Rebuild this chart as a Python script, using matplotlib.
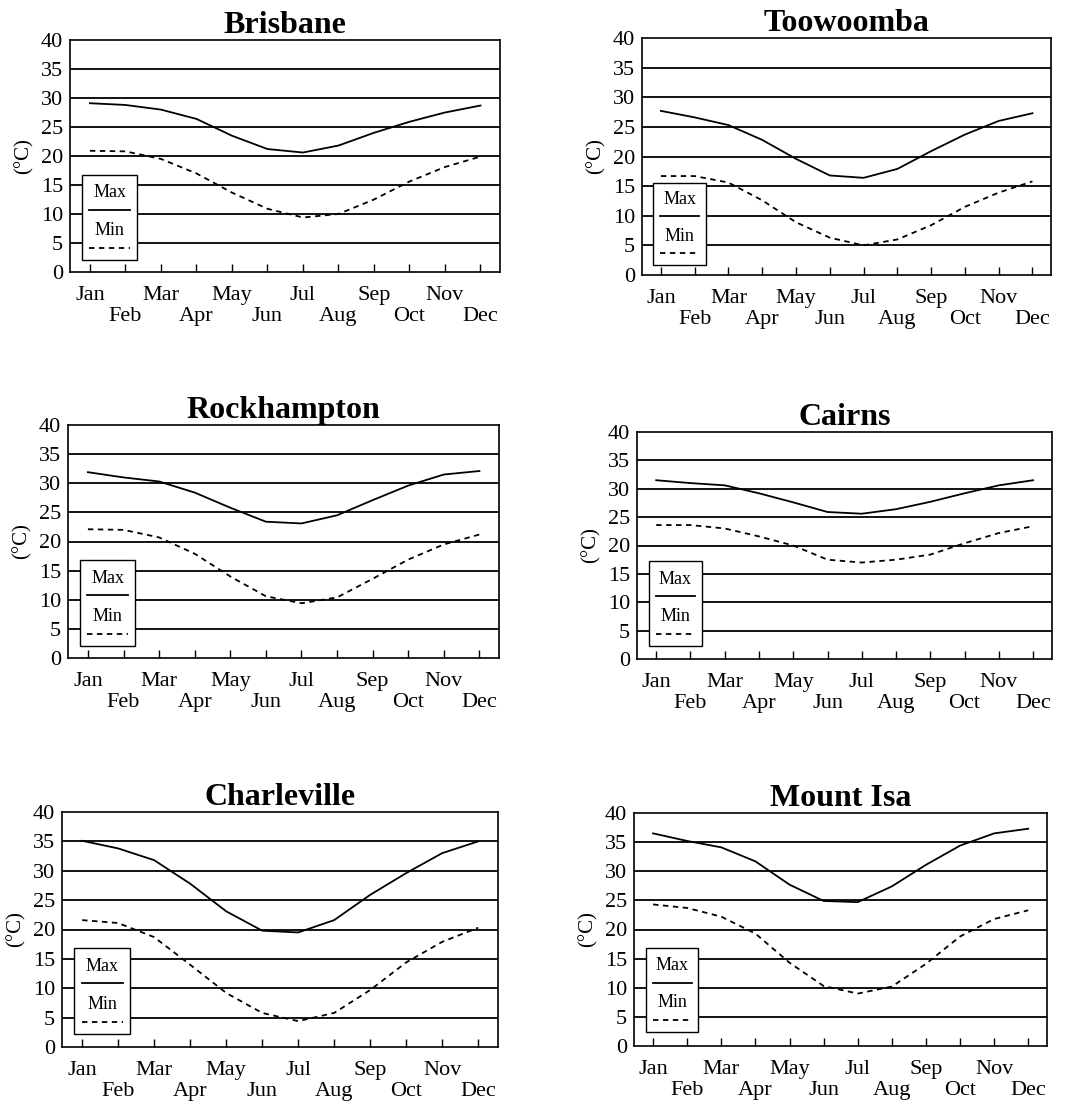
import numpy as np
import matplotlib.pyplot as plt
from matplotlib.patches import Rectangle

plt.rcParams['font.family'] = ['Liberation Serif', 'DejaVu Serif']

months = ['Jan', 'Feb', 'Mar', 'Apr', 'May', 'Jun',
          'Jul', 'Aug', 'Sep', 'Oct', 'Nov', 'Dec']

cities = ['Brisbane', 'Toowoomba', 'Rockhampton', 'Cairns', 'Charleville', 'Mount Isa']

brisbane_max = [29.1, 28.8, 28.0, 26.4, 23.5, 21.2, 20.6, 21.8, 24.0, 25.9, 27.5, 28.7]
brisbane_min = [20.9, 20.8, 19.5, 17.0, 13.7, 10.9, 9.4, 10.0, 12.5, 15.6, 18.1, 19.9]

toowoomba_max = [27.7, 26.6, 25.3, 22.8, 19.6, 16.8, 16.4, 17.9, 20.9, 23.7, 26.0, 27.3]
toowoomba_min = [16.7, 16.7, 15.6, 12.6, 8.9, 6.3, 5.0, 6.0, 8.4, 11.5, 13.9, 15.8]

rockhampton_max = [31.9, 31.0, 30.3, 28.4, 25.8, 23.4, 23.1, 24.5, 27.1, 29.6, 31.5, 32.1]
rockhampton_min = [22.1, 22.0, 20.7, 17.9, 14.0, 10.6, 9.4, 10.4, 13.6, 16.9, 19.5, 21.2]

cairns_max = [31.5, 31.0, 30.6, 29.2, 27.6, 25.9, 25.6, 26.4, 27.7, 29.2, 30.6, 31.5]
cairns_min = [23.6, 23.6, 23.0, 21.6, 20.0, 17.5, 17.0, 17.5, 18.4, 20.4, 22.2, 23.4]

charleville_max = [35.1, 33.8, 31.8, 27.8, 23.1, 19.8, 19.5, 21.6, 25.9, 29.6, 33.0, 35.0]
charleville_min = [21.6, 21.1, 18.7, 14.0, 9.2, 5.8, 4.4, 5.8, 9.7, 14.4, 17.9, 20.3]

mountisa_max = [36.5, 35.2, 34.1, 31.7, 27.7, 24.9, 24.7, 27.4, 31.1, 34.4, 36.5, 37.3]
mountisa_min = [24.3, 23.7, 22.2, 19.3, 14.3, 10.3, 9.0, 10.2, 14.1, 18.8, 21.8, 23.3]

series = [(brisbane_max, brisbane_min), (toowoomba_max, toowoomba_min),
          (rockhampton_max, rockhampton_min), (cairns_max, cairns_min),
          (charleville_max, charleville_min), (mountisa_max, mountisa_min)]

W, H = 1089, 1103
# axes boxes in pixels: left, right, top, bottom
boxes = [(70, 500, 40, 272), (642, 1051, 38, 275),
         (68, 499, 425, 658), (637, 1052, 432, 659),
         (62, 498, 812, 1047), (634, 1047, 813, 1046)]
# legend box bottom/top in axes fraction
leg_y = [(0.05, 0.42), (0.042, 0.39), (0.05, 0.42),
         (0.057, 0.43), (0.055, 0.42), (0.06, 0.42)]

fig = plt.figure(figsize=(W / 100, H / 100), dpi=100)
x = np.arange(12)
labels = [m if i % 2 == 0 else '\n' + m for i, m in enumerate(months)]
dash = (0, (3, 2.5))

for name, (mx, mn), (l, r, t, b), (lb, lt) in zip(cities, series, boxes, leg_y):
    ax = fig.add_axes([l / W, 1 - b / H, (r - l) / W, (b - t) / H])
    for yv in range(5, 40, 5):
        ax.axhline(yv, color='black', lw=1.3, zorder=1)
    ax.plot(x, mx, color='black', lw=1.3, zorder=3)
    ax.plot(x, mn, color='black', lw=1.3, ls=dash, zorder=3)
    ax.set_xlim(-0.56, 11.55)
    ax.set_ylim(0, 40)
    ax.set_yticks(range(0, 45, 5))
    ax.set_xticks(x)
    ax.set_xticklabels(labels, fontsize=16, linespacing=1.12)
    ax.tick_params(axis='x', direction='in', length=6, width=1, pad=10)
    ax.tick_params(axis='y', length=0, labelsize=16, pad=5)
    for s in ax.spines.values():
        s.set_linewidth(1.2)
    ax.set_ylabel('(°C)', fontsize=15, labelpad=5)
    ax.set_title(name, fontsize=23, fontweight='bold', pad=4)

    # legend box, label above line
    h = lt - lb
    ax.add_patch(Rectangle((0.028, lb), 0.128, h, transform=ax.transAxes,
                           facecolor='white', edgecolor='black', lw=1, zorder=4))
    ax.text(0.092, lb + 0.79 * h, 'Max', transform=ax.transAxes, ha='center',
            va='center', fontsize=13, zorder=5)
    ax.plot([0.045, 0.14], [lb + 0.59 * h] * 2, transform=ax.transAxes,
            color='black', lw=1.3, zorder=5)
    ax.text(0.092, lb + 0.35 * h, 'Min', transform=ax.transAxes, ha='center',
            va='center', fontsize=13, zorder=5)
    ax.plot([0.045, 0.14], [lb + 0.14 * h] * 2, transform=ax.transAxes,
            color='black', lw=1.3, ls=dash, zorder=5)

fig.savefig('out.png', dpi=100)
